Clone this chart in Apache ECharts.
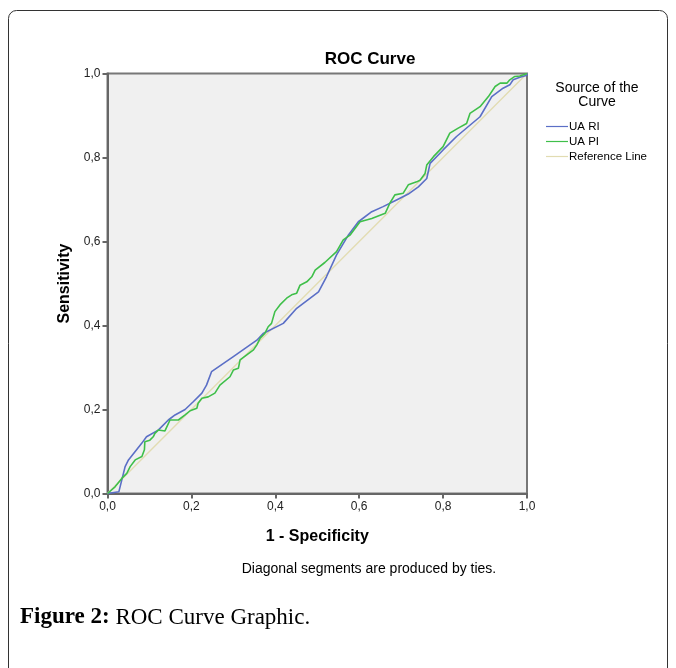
<!DOCTYPE html>
<html>
<head>
<meta charset="utf-8">
<script src="https://cdn.jsdelivr.net/npm/echarts@6/dist/echarts.min.js"></script>
<style>
html,body{margin:0;padding:0;background:#fff;}
#chart{width:676px;height:668px;}
</style>
</head>
<body>
<div id="chart"></div>
<script>
var titleText = "ROC Curve";
var xAxisName = "1 - Specificity";
var yAxisName = "Sensitivity";
var footnote = "Diagonal segments are produced by ties.";
var legendTitle = ["Source of the", "Curve"];
var seriesNames = ["UA RI", "UA PI", "Reference Line"];
var tickValues = [0, 0.2, 0.4, 0.6, 0.8, 1.0];

var uaRI = [
  [0,0],[0.027,0.004],[0.042,0.064],[0.050,0.080],[0.082,0.120],[0.093,0.135],
  [0.121,0.151],[0.145,0.175],[0.161,0.187],[0.185,0.200],[0.205,0.219],[0.225,0.239],
  [0.236,0.258],[0.248,0.290],[0.300,0.326],[0.356,0.365],[0.371,0.381],[0.419,0.405],
  [0.451,0.441],[0.503,0.480],[0.522,0.516],[0.546,0.568],[0.574,0.615],[0.598,0.647],
  [0.630,0.671],[0.657,0.683],[0.689,0.699],[0.717,0.713],[0.741,0.730],[0.761,0.750],
  [0.769,0.786],[0.800,0.818],[0.832,0.850],[0.888,0.897],[0.916,0.945],[0.943,0.965],
  [0.959,0.973],[0.967,0.985],[0.983,0.991],[1.0,0.996],[1,1]
];
var uaPI = [
  [0,0],[0.018,0.016],[0.034,0.036],[0.046,0.048],[0.054,0.064],[0.066,0.080],
  [0.082,0.088],[0.088,0.104],[0.089,0.123],[0.101,0.127],[0.109,0.135],[0.113,0.143],
  [0.121,0.151],[0.137,0.149],[0.149,0.175],[0.169,0.175],[0.185,0.187],[0.197,0.197],
  [0.213,0.203],[0.216,0.215],[0.225,0.227],[0.240,0.230],[0.256,0.239],[0.268,0.258],
  [0.292,0.278],[0.300,0.294],[0.312,0.298],[0.316,0.318],[0.332,0.330],[0.348,0.342],
  [0.356,0.354],[0.364,0.370],[0.375,0.381],[0.383,0.397],[0.391,0.405],[0.399,0.433],
  [0.411,0.449],[0.427,0.465],[0.439,0.473],[0.451,0.477],[0.459,0.496],[0.475,0.504],
  [0.487,0.516],[0.495,0.532],[0.518,0.550],[0.546,0.576],[0.562,0.604],[0.578,0.615],
  [0.602,0.647],[0.630,0.655],[0.662,0.667],[0.673,0.691],[0.685,0.711],[0.705,0.715],
  [0.717,0.735],[0.737,0.742],[0.745,0.746],[0.757,0.762],[0.761,0.782],[0.777,0.802],
  [0.800,0.826],[0.816,0.858],[0.836,0.870],[0.856,0.881],[0.864,0.905],[0.888,0.921],
  [0.908,0.945],[0.924,0.969],[0.936,0.977],[0.952,0.977],[0.959,0.985],[0.971,0.993],
  [0.983,0.994],[0.995,0.998],[1,1]
];
var refLine = [[0,0],[1,1]];

var colors = ["#5b6fc6", "#3fbf4a", "#e2dcb2"];
var fontSans = "'Liberation Sans', Arial, sans-serif";
var fontSerif = "'Liberation Serif', 'DejaVu Serif', serif";

var chart = echarts.init(document.getElementById('chart'), null, {renderer:'canvas'});
function fmt(v){ return v.toFixed(1).replace('.', ','); }

var option = {
  backgroundColor: '#ffffff',
  animation: false,
  grid: {left: 107.5, right: 149, top: 73.5, bottom: 174.5, show: true,
         backgroundColor: '#f0f0f0', borderColor: '#777', borderWidth: 2},
  legend: {
    orient: 'vertical', left: 541, top: 115,
    icon: 'rect', itemWidth: 22, itemHeight: 1.2, itemGap: 2,
    data: seriesNames,
    textStyle: {fontFamily: fontSans, fontSize: 11.5, lineHeight: 13, color: '#000', padding: [0,0,0,-4]}
  },
  xAxis: {
    type: 'value', min: 0, max: 1, interval: 0.2,
    name: xAxisName, nameLocation: 'middle', nameGap: 35,
    nameTextStyle: {fontFamily: fontSans, fontSize: 16, fontWeight: 'bold', color: '#000'},
    axisLine: {show: true, onZero: false, lineStyle: {color: '#666', width: 2}},
    axisTick: {show: true, length: 5, lineStyle: {color: '#666', width: 2}},
    axisLabel: {formatter: fmt, fontFamily: fontSans, fontSize: 12, color: '#222', margin: 7},
    splitLine: {show: false}
  },
  yAxis: {
    type: 'value', min: 0, max: 1, interval: 0.2,
    name: yAxisName, nameLocation: 'middle', nameGap: 34, nameRotate: 90,
    nameTextStyle: {fontFamily: fontSans, fontSize: 16, fontWeight: 'bold', color: '#000'},
    axisLine: {show: true, onZero: false, lineStyle: {color: '#666', width: 2}},
    axisTick: {show: true, length: 5, lineStyle: {color: '#666', width: 2}},
    axisLabel: {formatter: fmt, fontFamily: fontSans, fontSize: 12, color: '#222', margin: 7},
    splitLine: {show: false}
  },
  series: [
    {name: seriesNames[0], type: 'line', data: uaRI, showSymbol: false, symbol: 'none',
     lineStyle: {color: colors[0], width: 1.6}, itemStyle: {color: colors[0]}, z: 4},
    {name: seriesNames[1], type: 'line', data: uaPI, showSymbol: false, symbol: 'none',
     lineStyle: {color: colors[1], width: 1.6}, itemStyle: {color: colors[1]}, z: 5},
    {name: seriesNames[2], type: 'line', data: refLine, showSymbol: false, symbol: 'none',
     lineStyle: {color: colors[2], width: 1.4}, itemStyle: {color: colors[2]}, z: 3}
  ],
  graphic: [
    {type: 'rect', z: -10, silent: true,
     shape: {x: 8.5, y: 10.5, width: 659, height: 680, r: 8},
     style: {fill: 'none', stroke: '#333', lineWidth: 1}},
    {type: 'text', silent: true,
     style: {x: 370, y: 51, text: titleText, textAlign: 'center', fontFamily: fontSans,
             fontSize: 17, fontWeight: 'bold', fill: '#000'}},
    {type: 'text', silent: true,
     style: {x: 597, y: 81, text: legendTitle.join('\n'), textAlign: 'center', fontFamily: fontSans,
             fontSize: 14, lineHeight: 14, fill: '#000'}},
    {type: 'text', silent: true,
     style: {x: 369, y: 562, text: footnote, textAlign: 'center', fontFamily: fontSans, fontSize: 14, fill: '#000'}},
    {type: 'text', silent: true,
     style: {x: 20, y: 606,
             rich: {b: {fontFamily: fontSerif, fontSize: 23, fontWeight: 'bold', fill: '#000'},
                    n: {fontFamily: fontSerif, fontSize: 23, fill: '#000'}},
             text: '{b|Figure 2:}{n| ROC Curve Graphic.}'}}
  ]
};
chart.setOption(option);
</script>
</body>
</html>
